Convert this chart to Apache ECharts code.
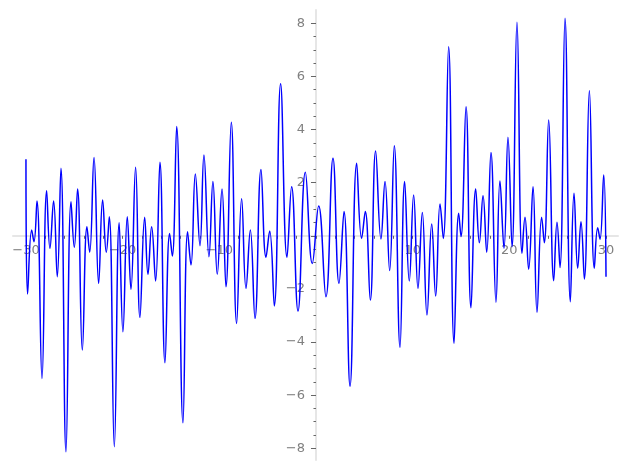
<!DOCTYPE html>
<html>
<head>
<meta charset="utf-8">
<script src="https://cdn.jsdelivr.net/npm/echarts@6/dist/echarts.min.js"></script>
<style>html,body{margin:0;padding:0;background:#fff}#c{width:627px;height:470px}</style>
</head>
<body>
<div id="c"></div>
<script>
// Extrema of the curve
const xs = [-30.0,-29.83,-29.41,-29.17,-28.86,-28.34,-27.86,-27.52,-27.14,-26.76,-26.38,-25.86,-25.34,-25.0,-24.66,-24.17,-23.69,-23.41,-22.96,-22.48,-22.07,-21.69,-21.38,-20.86,-20.36,-19.97,-19.52,-19.14,-18.66,-18.21,-17.72,-17.38,-17.0,-16.59,-16.14,-15.62,-15.14,-14.86,-14.41,-13.76,-13.28,-12.93,-12.48,-12.0,-11.59,-11.07,-10.66,-10.21,-9.72,-9.31,-8.76,-8.21,-7.69,-7.24,-6.79,-6.31,-5.69,-5.17,-4.79,-4.31,-3.66,-3.0,-2.52,-1.86,-1.10,-0.38,0.28,1.03,1.76,2.38,2.90,3.52,4.21,4.72,5.10,5.62,6.17,6.72,7.14,7.62,8.10,8.69,9.17,9.65,10.10,10.55,11.0,11.48,11.97,12.38,12.83,13.17,13.72,14.28,14.76,15.0,15.52,16.03,16.52,16.90,17.28,17.66,18.10,18.62,19.03,19.45,19.86,20.28,20.79,21.31,21.62,22.0,22.45,22.86,23.34,23.62,24.07,24.59,24.93,25.24,25.76,26.31,26.69,27.07,27.41,27.76,28.28,28.79,29.14,29.38,29.76,30.0];
const ys = [2.88,-2.19,0.22,-0.22,1.31,-5.37,1.70,-0.47,1.31,-1.54,2.54,-8.13,1.28,-0.43,1.76,-4.30,0.34,-0.62,2.95,-1.79,1.35,-0.62,0.72,-7.94,0.49,-3.61,0.72,-2.01,2.58,-3.07,0.70,-1.45,0.34,-1.70,2.77,-4.78,0.09,-0.76,4.11,-7.04,0.15,-1.10,2.33,-0.37,3.04,-0.79,2.04,-1.45,1.76,-1.92,4.27,-3.30,1.39,-1.98,0.22,-3.11,2.50,-0.81,0.18,-2.64,5.72,-0.81,1.85,-2.83,2.39,-1.04,1.12,-2.29,2.92,-1.79,0.91,-5.66,2.73,-0.10,0.91,-2.42,3.19,-0.12,2.04,-1.31,3.39,-4.20,2.04,-1.70,1.54,-1.98,0.88,-2.98,0.44,-2.27,1.20,-0.10,7.12,-4.05,0.85,-0.03,4.86,-2.71,1.76,-0.26,1.51,-0.62,3.14,-2.50,2.06,-0.47,3.71,-0.41,8.04,-0.66,0.70,-1.26,1.85,-2.88,0.70,-0.26,4.36,-1.69,0.51,-1.19,8.19,-2.48,1.60,-1.22,0.53,-1.63,5.46,-1.22,0.30,-0.13,2.29,-1.54];
const xLabelVals = [-30,-20,-10,10,20,30];
const xTickVals = [-30,-28,-26,-24,-22,-20,-18,-16,-14,-12,-10,-8,-6,-4,-2,0,2,4,6,8,10,12,14,16,18,20,22,24,26,28,30];
const yLabelVals = [-8,-6,-4,-2,2,4,6,8];
const yMajorTicks = [-8,-6,-4,-2,0,2,4,6,8];
const yMinorTicks = [-8,-7.5,-7,-6.5,-6,-5.5,-5,-4.5,-4,-3.5,-3,-2.5,-2,-1.5,-1,-0.5,0,0.5,1,1.5,2,2.5,3,3.5,4,4.5,5,5.5,6,6.5,7,7.5,8];

const X_MIN = -31.34, X_MAX = 31.24, Y_MIN = -8.44, Y_MAX = 8.5;
const G = {left: 13, right: 9, top: 10, bottom: 10};
const W = 627, H = 470;
const gw = W - G.left - G.right, gh = H - G.top - G.bottom;
// distance from grid edge to the zero lines (to place label axes on the zero lines)
const xZeroFromLeft = (0 - X_MIN) / (X_MAX - X_MIN) * gw;
const yZeroFromBottom = (0 - Y_MIN) / (Y_MAX - Y_MIN) * gh;

const data = xs.map((x, i) => [x, ys[i]]);
const fmt = v => (v < 0 ? '\u2212' + Math.abs(v) : String(v));
const labelStyle = {color: '#808080', fontFamily: 'DejaVu Sans', fontSize: 13};
const gridBox = Object.assign({containLabel: false, outerBoundsMode: 'none'}, G);
const hidden = {show: false};

const chart = echarts.init(document.getElementById('c'), null, {renderer: 'canvas'});
chart.setOption({
  animation: false,
  grid: [Object.assign({}, gridBox), Object.assign({}, gridBox), Object.assign({}, gridBox)],
  xAxis: [{
    gridIndex: 0, type: 'value', min: X_MIN, max: X_MAX,
    axisLine: {onZero: true, lineStyle: {color: '#e6e6e6', width: 2}},
    axisTick: hidden, axisLabel: hidden, splitLine: hidden
  }, {
    gridIndex: 1, type: 'value', min: X_MIN, max: X_MAX,
    axisLine: {show: false, onZero: true}, axisTick: hidden, axisLabel: hidden, splitLine: hidden
  }, {
    gridIndex: 2, type: 'value', min: X_MIN, max: X_MAX, position: 'bottom',
    offset: -yZeroFromBottom,
    axisLine: {show: false, onZero: false},
    axisTick: {show: true, customValues: xTickVals, length: 3, lineStyle: {color: '#666', width: 1}},
    axisLabel: Object.assign({customValues: xLabelVals, margin: 8, formatter: fmt}, labelStyle),
    splitLine: hidden
  }],
  yAxis: [{
    gridIndex: 0, type: 'value', min: Y_MIN, max: Y_MAX,
    axisLine: {onZero: true, lineStyle: {color: '#e6e6e6', width: 2}},
    axisTick: hidden, axisLabel: hidden, splitLine: hidden
  }, {
    gridIndex: 1, type: 'value', min: Y_MIN, max: Y_MAX,
    axisLine: {show: false, onZero: true},
    axisTick: {show: true, customValues: yMinorTicks, length: 2.5, lineStyle: {color: '#666', width: 1}},
    axisLabel: hidden, splitLine: hidden
  }, {
    gridIndex: 2, type: 'value', min: Y_MIN, max: Y_MAX, position: 'left',
    offset: -xZeroFromLeft,
    axisLine: {show: false, onZero: false},
    axisTick: {show: true, customValues: yMajorTicks, length: 5, lineStyle: {color: '#666', width: 1}},
    axisLabel: Object.assign({customValues: yLabelVals, margin: 11, formatter: fmt}, labelStyle),
    splitLine: hidden
  }],
  series: [{
    type: 'line', data: data, xAxisIndex: 0, yAxisIndex: 0, showSymbol: false, smooth: 0.45,
    lineStyle: {color: '#0000ff', width: 1.5}, z: 3
  }]
});
</script>
</body>
</html>
